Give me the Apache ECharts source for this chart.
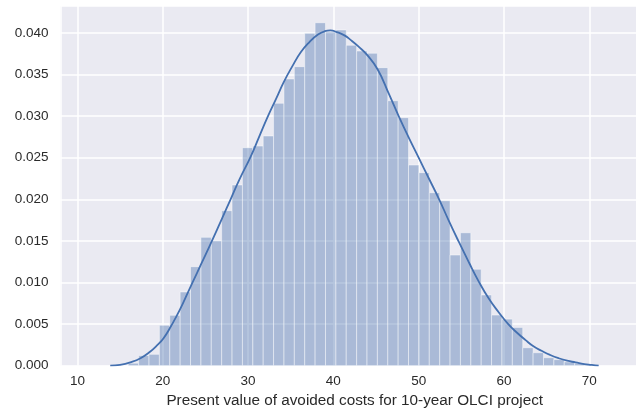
<!DOCTYPE html>
<html>
<head>
<meta charset="utf-8">
<script src="https://cdn.jsdelivr.net/npm/echarts@6/dist/echarts.min.js"></script>
<style>
  html, body { margin: 0; padding: 0; background: #ffffff; }
  #chart { width: 636px; height: 413px; }
</style>
</head>
<body>
<div id="chart"></div>
<script>
// Histogram of the simulated present value (density-normalised bins)
const binStart = 15.96;
const binWidth = 1.2168;
const density = [
  0.0003, 0.00122, 0.00137, 0.00486, 0.00606, 0.00886, 0.0119, 0.01543, 0.01502,
  0.01863, 0.02172, 0.0262, 0.0264, 0.02761, 0.03154, 0.03446, 0.03594, 0.03995,
  0.04122, 0.0401, 0.04035, 0.03851, 0.03782, 0.03755, 0.03582, 0.03185, 0.02981,
  0.02412, 0.0232, 0.02079, 0.01983, 0.0133, 0.01598, 0.01159, 0.0085, 0.00609,
  0.0056, 0.0046, 0.00216, 0.00156, 0.00096, 0.00073, 0.00046, 0.0003, 0.0001
];

// Kernel density estimate of the same sample
const kdeX = [
  13.85, 15.0, 16.2, 17.4, 18.55, 19.3, 20.1, 21.0, 22.0, 23.0, 24.0, 25.0, 26.0,
  27.0, 27.96, 29.0, 30.3, 31.3, 32.3, 33.3, 34.2, 35.2, 36.2, 37.2, 38.2, 39.0,
  39.65, 40.4, 41.3, 42.1, 42.9, 44.0, 45.2, 46.5, 47.7, 48.8, 50.0, 51.2, 52.4,
  53.5, 54.7, 55.9, 57.0, 58.2, 59.4, 60.5, 61.6, 62.5, 63.5, 64.4, 65.4, 66.4,
  67.4, 68.4, 69.4, 70.3, 71.1
];
const kdeY = [
  0, 0.0001, 0.0004, 0.0009, 0.0017, 0.0024, 0.0033, 0.0048, 0.0067, 0.0089, 0.0111,
  0.0133, 0.0155, 0.0178, 0.0200, 0.0224, 0.0251, 0.0275, 0.0299, 0.0321, 0.0341,
  0.0360, 0.0377, 0.0389, 0.0398, 0.0402, 0.0403, 0.0401, 0.0397, 0.0391, 0.0384,
  0.0373, 0.0356, 0.0327, 0.0299, 0.0275, 0.0250, 0.0225, 0.0200, 0.0175, 0.0149,
  0.0124, 0.0102, 0.0081, 0.0064, 0.0050, 0.0039, 0.0031, 0.0023, 0.0018, 0.0013,
  0.0009, 0.0006, 0.0004, 0.0002, 0.0001, 0
];

// Axis settings
const xRange = [8.02, 77.0];
const yRange = [0, 0.04323];
const yStep = 0.005;
const xStep = 10;
const xTitle = 'Present value of avoided costs for 10-year OLCI project';

const binData = density.map((d, i) => [binStart + i * binWidth, binStart + (i + 1) * binWidth, d]);
const kdeData = kdeX.map((x, i) => [x, kdeY[i]]);

const textColor = '#2a2a2a';
const fontFamily = '"Liberation Sans", Arial, Helvetica, sans-serif';

const chart = echarts.init(document.getElementById('chart'), null, { renderer: 'canvas' });
chart.setOption({
  animation: false,
  backgroundColor: '#ffffff',
  grid: {
    left: 60.5, right: -13, top: 6, bottom: 47.3,
    outerBoundsMode: 'none',
    show: true, backgroundColor: '#eaeaf2', borderWidth: 0
  },
  xAxis: {
    type: 'value',
    min: xRange[0], max: xRange[1],
    minInterval: xStep, maxInterval: xStep,
    name: xTitle,
    nameLocation: 'middle',
    nameGap: 27,
    nameTextStyle: { color: textColor, fontSize: 15.3, fontFamily: fontFamily },
    axisLine: { show: false },
    axisTick: { show: false },
    axisLabel: {
      color: textColor, fontSize: 13.5, fontFamily: fontFamily, margin: 9,
      showMinLabel: false, showMaxLabel: false
    },
    splitLine: { show: true, lineStyle: { color: '#ffffff', width: 1.5 } }
  },
  yAxis: {
    type: 'value',
    min: yRange[0], max: yRange[1], interval: yStep,
    axisLine: { show: false },
    axisTick: { show: false },
    axisLabel: {
      color: textColor, fontSize: 13.5, fontFamily: fontFamily, margin: 12,
      showMaxLabel: false,
      formatter: v => v.toFixed(3)
    },
    splitLine: { show: true, lineStyle: { color: '#ffffff', width: 1.5 } }
  },
  series: [
    {
      type: 'custom',
      data: binData,
      encode: { x: [0, 1], y: 2 },
      renderItem: function (params, api) {
        const p0 = api.coord([api.value(0), api.value(2)]);
        const p1 = api.coord([api.value(1), 0]);
        return {
          type: 'rect',
          shape: { x: p0[0], y: p0[1], width: p1[0] - p0[0], height: p1[1] - p0[1] },
          style: {
            fill: 'rgba(76,114,176,0.4)',
            stroke: 'rgba(255,255,255,0.45)',
            lineWidth: 1
          }
        };
      },
      z: 2
    },
    {
      type: 'line',
      data: kdeData,
      smooth: 0.5,
      showSymbol: false,
      lineStyle: { color: '#4470b0', width: 1.8 },
      z: 3
    }
  ]
});
</script>
</body>
</html>
